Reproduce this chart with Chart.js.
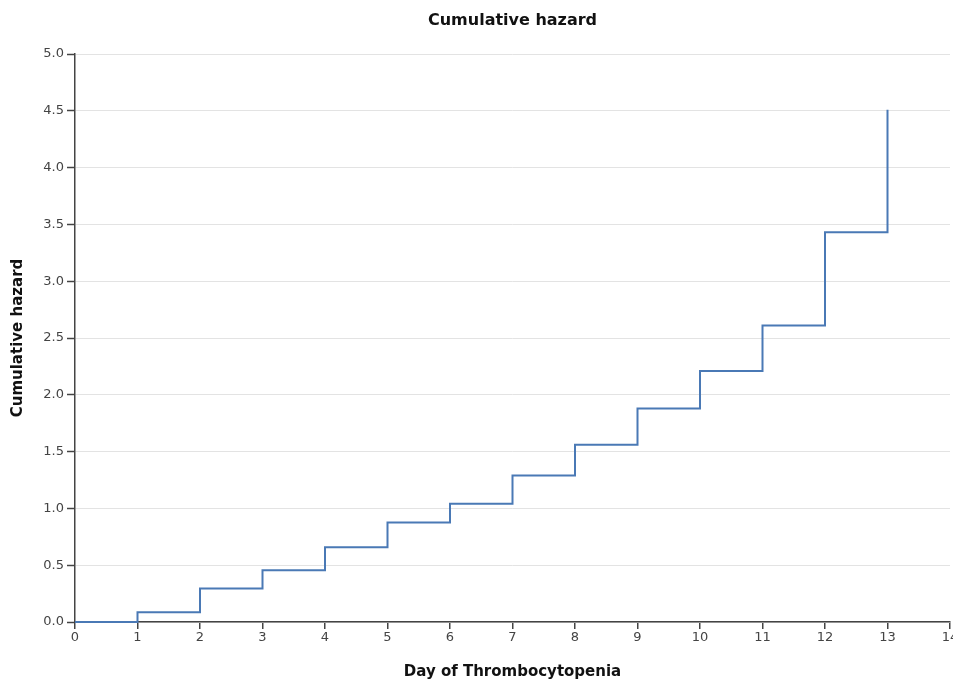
<!DOCTYPE html>
<html>
<head>
<meta charset="utf-8">
<script src="https://cdn.jsdelivr.net/npm/chart.js@4"></script>
<style>
  html, body { margin: 0; padding: 0; background: #fff; }
  #wrap { width: 953px; height: 681px; }
</style>
</head>
<body>
<div id="wrap"><canvas id="myChart"></canvas></div>
<script>
const days = [0, 1, 2, 3, 4, 5, 6, 7, 8, 9, 10, 11, 12, 13];
const hazard = [0, 0.085, 0.294, 0.456, 0.659, 0.876, 1.04, 1.29, 1.56, 1.88, 2.21, 2.61, 3.43, 4.51];
const chartTitle = 'Cumulative hazard';
const xTitle = 'Day of Thrombocytopenia';
const yTitle = 'Cumulative hazard';

const points = days.map((d, i) => ({ x: d, y: hazard[i] }));

// title centred over the plot area rather than the canvas
const plotTitle = {
    id: 'plotTitle',
    afterDraw(chart) {
        const ctx = chart.ctx;
        const a = chart.chartArea;
        ctx.save();
        ctx.font = 'bold 16px "DejaVu Sans", sans-serif';
        ctx.fillStyle = '#111';
        ctx.textAlign = 'center';
        ctx.textBaseline = 'middle';
        ctx.fillText(chartTitle, (a.left + a.right) / 2, 21);
        ctx.restore();
    }
};

const config = {
    type: 'line',
    data: {
        datasets: [{
            data: points,
            stepped: true,
            borderColor: '#4a79b5',
            borderWidth: 2,
            pointRadius: 0,
            fill: false,
            clip: 4
        }]
    },
    options: {
        responsive: true,
        maintainAspectRatio: false,
        animation: false,
        layout: {
            padding: { top: 54, right: 3, left: 0, bottom: 0 }
        },
        plugins: {
            legend: { display: false },
            tooltip: { enabled: false }
        },
        scales: {
            x: {
                type: 'linear',
                min: 0,
                max: 14,
                border: { color: '#444', width: 1.5 },
                grid: {
                    drawOnChartArea: false,
                    color: '#444',
                    lineWidth: 1.5,
                    tickLength: 7
                },
                ticks: {
                    stepSize: 1,
                    color: '#444',
                    padding: 1,
                    font: { family: '"DejaVu Sans", sans-serif', size: 13 }
                },
                title: {
                    display: true,
                    text: xTitle,
                    color: '#111',
                    font: { family: '"DejaVu Sans", sans-serif', size: 15, weight: 'bold' },
                    padding: { top: 13, bottom: 0 }
                },
                afterFit(scale) {
                    scale.height = 59;
                    scale.paddingRight = 0;
                    scale.paddingLeft = 0;
                }
            },
            y: {
                min: 0,
                max: 5,
                border: { color: '#444', width: 1.5 },
                grid: {
                    color: '#e3e3e3',
                    tickColor: '#444',
                    tickWidth: 1.5,
                    tickLength: 8
                },
                ticks: {
                    stepSize: 0.5,
                    color: '#444',
                    padding: 3,
                    font: { family: '"DejaVu Sans", sans-serif', size: 13 },
                    callback: v => v.toFixed(1)
                },
                title: {
                    display: true,
                    text: yTitle,
                    color: '#111',
                    font: { family: '"DejaVu Sans", sans-serif', size: 15, weight: 'bold' },
                    padding: { top: 9, bottom: 0 }
                },
                afterFit(scale) {
                    scale.width = 75;
                    scale.paddingTop = 0;
                    scale.paddingBottom = 0;
                }
            }
        }
    },
    plugins: [plotTitle]
};

const myChart = new Chart(document.getElementById('myChart'), config);
</script>
</body>
</html>
